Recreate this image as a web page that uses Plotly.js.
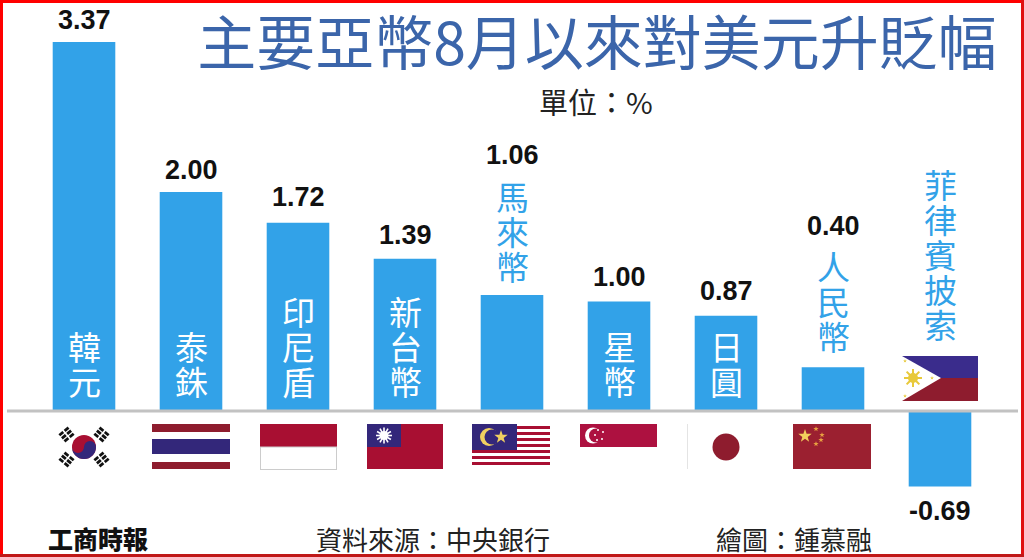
<!DOCTYPE html>
<html><head><meta charset="utf-8">
<script src="https://cdn.plot.ly/plotly-3.0.0.min.js"></script>
<style>html,body{margin:0;padding:0;background:#fff;overflow:hidden}#c{width:1024px;height:557px}</style>
</head><body><div id="c"></div>
<script>
// --- data ---
const categories = ['韓元','泰銖','印尼盾','新台幣','馬來幣','星幣','日圓','人民幣','菲律賓披索'];
const values = [3.37,2.00,1.72,1.39,1.06,1.00,0.87,0.40,-0.69];
const valueLabels = ['3.37','2.00','1.72','1.39','1.06','1.00','0.87','0.40','-0.69'];
const nameOutside = [false,false,false,false,true,false,false,true,true];

// --- layout helpers (pixels on the 1024x557 page) ---
const W=1024,H=557;
const px=(x)=>x/W, py=(y)=>1-y/H;
const baseY=411, unit=109.5, x0=84, step=107;
const valueLabelY=[20,170,197,235,155,277,291,226,511];
const nameTopY=[346,346,311,311,196,346,346,266,184]; // centre of first glyph
const NAME_FONT='"Noto Sans CJK TC","Noto Sans CJK SC",sans-serif';
const BLUE='#32a2e8';

const annotations=[];
categories.forEach((c,i)=>{
  annotations.push({x:i,xref:'x',y:py(valueLabelY[i]),yref:'paper',text:valueLabels[i],showarrow:false,
    xanchor:'center',yanchor:'middle',font:{family:'"Liberation Sans",Arial,sans-serif',size:27,color:'#111',weight:700}});
  [...c].forEach((ch,k)=>{
    annotations.push({x:i,xref:'x',y:py(nameTopY[i]+k*35),yref:'paper',text:ch,showarrow:false,
      xanchor:'center',yanchor:'middle',font:{family:NAME_FONT,size:33,color:nameOutside[i]?BLUE:'#fff'}});
  });
});
function note(text,xc,yc,size,color,extra){
  annotations.push({x:px(xc),xref:'paper',y:py(yc),yref:'paper',text,showarrow:false,xanchor:'center',yanchor:'middle',
    font:Object.assign({family:NAME_FONT,size,color},extra||{})});
}
note('單位：%',596,101,29,'#222');
note('工商時報',98,538,25,'#111',{family:'"Noto Sans CJK TC"',weight:900});
note('資料來源：中央銀行',433,538,26,'#222');
note('繪圖：鍾慕融',794,538,26,'#222');

// --- flags ---
const R='#a80f32',N='#33277a',D='#8e1c2e';
const svg=(w,h,body)=>'data:image/svg+xml;charset=utf-8,'+encodeURIComponent(
 `<svg xmlns="http://www.w3.org/2000/svg" width="${w}" height="${h}" viewBox="0 0 ${w} ${h}"><g>${body}</g></svg>`);
const rect=(x,y,w,h,f,extra='')=>`<rect x="${x}" y="${y}" width="${w}" height="${h}" fill="${f}" ${extra}/>`;
function trigram(cx,cy,ang){return `<g transform="translate(${cx} ${cy}) rotate(${ang})">`+
  [-4,0,4].map(d=>rect(-6,d-1.4,12,2.8,'#111')).join('')+rect(-0.8,-7,1.6,14,'#fff')+`</g>`;}
const sunRays=(cx,cy,r1,r2,n,col,w)=>Array.from({length:n},(_,i)=>{const a=i*2*Math.PI/n;
  return `<line x1="${cx+r1*Math.cos(a)}" y1="${cy+r1*Math.sin(a)}" x2="${cx+r2*Math.cos(a)}" y2="${cy+r2*Math.sin(a)}" stroke="${col}" stroke-width="${w}"/>`}).join('');
const star=(cx,cy,r,f)=>{let p=[];for(let i=0;i<10;i++){const a=-Math.PI/2+i*Math.PI/5,q=i%2?r*0.4:r;p.push((cx+q*Math.cos(a)).toFixed(1)+','+(cy+q*Math.sin(a)).toFixed(1));}
  return `<polygon points="${p.join(' ')}" fill="${f}"/>`;};

const flags=[
 {x:45,y:424,w:78,h:46,b:rect(0,0,78,46,'#fff')+
   `<circle cx="39" cy="23" r="12" fill="${R}"/><path d="M27 23a12 12 0 0 0 24 0a6 6 0 0 0-12 0a6 6 0 0 1-12 0z" fill="${N}"/>`+
   trigram(21.5,10.5,-40)+trigram(56.5,10.5,40)+trigram(21.5,35.5,40)+trigram(56.5,35.5,-40)},
 {x:152,y:424,w:78,h:45,b:rect(0,0,78,45,'#fff')+rect(0,0,78,8,D)+rect(0,15,78,15,N)+rect(0,38,78,7,D)},
 {x:260,y:424,w:77,h:46,b:rect(0,0,77,23,R)+rect(0.5,23,76,22.5,'#fff','stroke="#ccc"')},
 {x:367,y:424,w:76,h:45,b:rect(0,0,76,45,R)+rect(0,0,34,23,N)+`<circle cx="17" cy="11.5" r="4.5" fill="#fff"/>`+sunRays(17,11.5,4,8,12,'#fff',1.6)},
 {x:472,y:424,w:78,h:43,b:rect(0,0,78,43,'#fff')+[2,8,14,20,26,32,38].map(y=>rect(0,y,78,3,R)).join('')+rect(0,0,45,26,N)+
   `<circle cx="17" cy="13" r="9" fill="#f0d060"/><circle cx="20" cy="13" r="7.5" fill="${N}"/>`+star(29,13,7,'#f0d060')},
 {x:580,y:424,w:77,h:23,b:rect(0,0,77,23,'#ad1140')+`<circle cx="13" cy="11.5" r="8" fill="#fff"/><circle cx="16" cy="11.5" r="7" fill="#ad1140"/>`+
   [[18,6],[23,8],[22,15],[17,16],[15,11]].map(p=>`<circle cx="${p[0]}" cy="${p[1]}" r="1" fill="#fff"/>`).join('')},
 {x:687,y:424,w:78,h:45,b:rect(0,0,78,45,'#fff')+rect(0,0,1,45,'#e4e4e4')+`<circle cx="39" cy="23" r="13.5" fill="${D}"/>`},
 {x:793,y:424,w:78,h:45,b:rect(0,0,78,45,'#9b2030')+star(12,12,7,'#f2cf5c')+[[23,5],[29,11],[28,16],[23,20]].map(p=>star(p[0],p[1],2.8,'#e8a040')).join('')},
 {x:902,y:356,w:76,h:45,b:rect(0,0,76,22,'#3a2c8c')+rect(0,22,76,23,D)+`<polygon points="0,0 39,22 0,45" fill="#fff"/>`+
   `<circle cx="11" cy="22" r="5" fill="#e8c93a"/>`+sunRays(11,22,4,9,8,'#e8c93a',2)+star(3,5,2,'#e8c93a')+star(3,40,2,'#e8c93a')+star(30,22,2,'#e8c93a')},
];
const images=flags.map(f=>({source:svg(f.w,f.h,f.b),xref:'paper',yref:'paper',x:px(f.x),y:py(f.y),
  sizex:f.w/W,sizey:f.h/H,xanchor:'left',yanchor:'top',sizing:'stretch',layer:'above'}));

const layout={
  width:W,height:H,margin:{l:0,r:0,t:0,b:0},paper_bgcolor:'#fff',plot_bgcolor:'#fff',showlegend:false,
  title:{text:'主要亞幣8月以來對美元升貶幅',x:597/W,xanchor:'center',xref:'paper',y:py(44),yanchor:'middle',yref:'paper',
    font:{family:NAME_FONT,size:59,color:'#3b65aa',weight:400}},
  xaxis:{type:'category',categories,range:[-x0/step,(W-x0)/step],visible:false,fixedrange:true,domain:[0,1],categoryorder:'array',categoryarray:categories},
  yaxis:{range:[-(H-baseY)/unit,baseY/unit],visible:false,zeroline:false,fixedrange:true,domain:[0,1]},
  bargap:0.415,
  annotations,images,
  shapes:[
    {type:'line',xref:'paper',yref:'y',x0:7/W,x1:1018/W,y0:0,y1:0,line:{color:'#c2c2c2',width:3},layer:'above'},
    {type:'line',xref:'paper',yref:'paper',x0:0,x1:1,y0:py(1.5),y1:py(1.5),line:{color:'#f00',width:3},layer:'above'},
    {type:'line',xref:'paper',yref:'paper',x0:px(1.5),x1:px(1.5),y0:0,y1:1,line:{color:'#f00',width:3},layer:'above'},
    {type:'line',xref:'paper',yref:'paper',x0:px(1022.5),x1:px(1022.5),y0:0,y1:1,line:{color:'#e01010',width:3},layer:'above'},
    {type:'line',xref:'paper',yref:'paper',x0:0,x1:1,y0:py(555.5),y1:py(555.5),line:{color:'#c01818',width:3},layer:'above'}
  ]
};
Plotly.newPlot('c',[{type:'bar',x:categories,y:values,marker:{color:BLUE,line:{width:0}},hoverinfo:'skip'}],layout,{displayModeBar:false,staticPlot:true});
</script></body></html>
